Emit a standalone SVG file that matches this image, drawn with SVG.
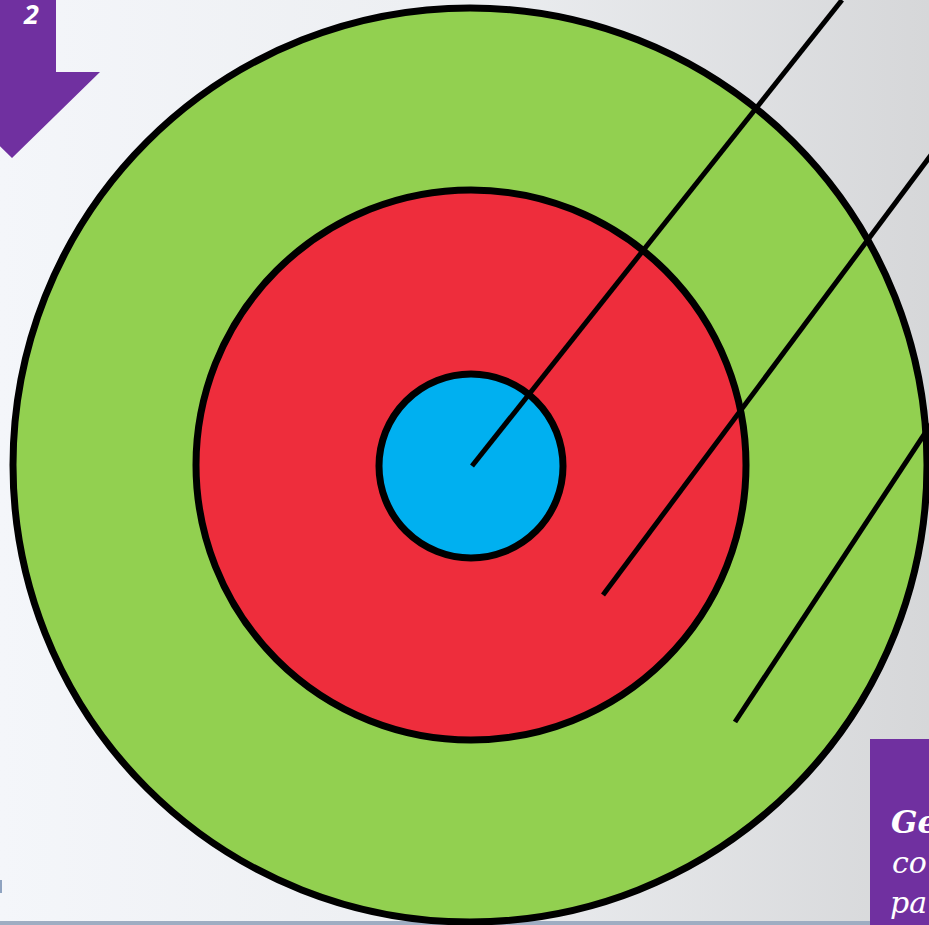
<svg xmlns="http://www.w3.org/2000/svg" width="929" height="925" viewBox="0 0 929 925">
<defs>
<linearGradient id="bg" x1="0" y1="0" x2="1" y2="0">
<stop offset="0" stop-color="#f4f6fa"/>
<stop offset="0.5" stop-color="#eceef1"/>
<stop offset="1" stop-color="#d6d7d9"/>
</linearGradient>
<style>
.ring{stroke:#000;stroke-width:7}
.ln{stroke:#000;stroke-width:5;fill:none}
.wt{fill:#fff;font-family:"DejaVu Serif","Liberation Serif",serif}
</style>
</defs>
<rect width="929" height="925" fill="url(#bg)"/>
<rect x="0" y="921" width="929" height="4" fill="#9eadc2"/>
<rect x="0" y="880" width="2" height="13" fill="#8fa3c0"/>
<g id="arrow">
<polygon points="-32,0 56,0 56,72 100,72 12,158 -76,72 -32,72" fill="#7030a0"/>
<text x="24" y="24" font-family="'Open Sans','DejaVu Sans',sans-serif" font-weight="bold" font-style="italic" font-size="27" fill="#fff">2</text>
</g>
<g id="outer"><circle cx="470" cy="465" r="457" fill="#92d050" class="ring"/></g>
<g id="middle"><circle cx="471" cy="465" r="275" fill="#ee2d3c" class="ring"/></g>
<g id="inner"><circle cx="471" cy="466" r="92" fill="#00b0f0" class="ring"/></g>
<g id="connectors">
<line x1="472" y1="466" x2="842" y2="0" class="ln"/>
<line x1="603" y1="595" x2="940" y2="143" class="ln"/>
<line x1="735" y1="722" x2="935" y2="418" class="ln"/>
</g>
<g id="box">
<rect x="870" y="739" width="70" height="190" fill="#7030a0"/>
<text x="891" y="833" class="wt" font-weight="bold" font-style="italic" font-size="31">Ge</text>
<text x="892" y="873" class="wt" font-style="italic" font-size="30">co</text>
<text x="890" y="913" class="wt" font-style="italic" font-size="30">pa</text>
</g>
</svg>
